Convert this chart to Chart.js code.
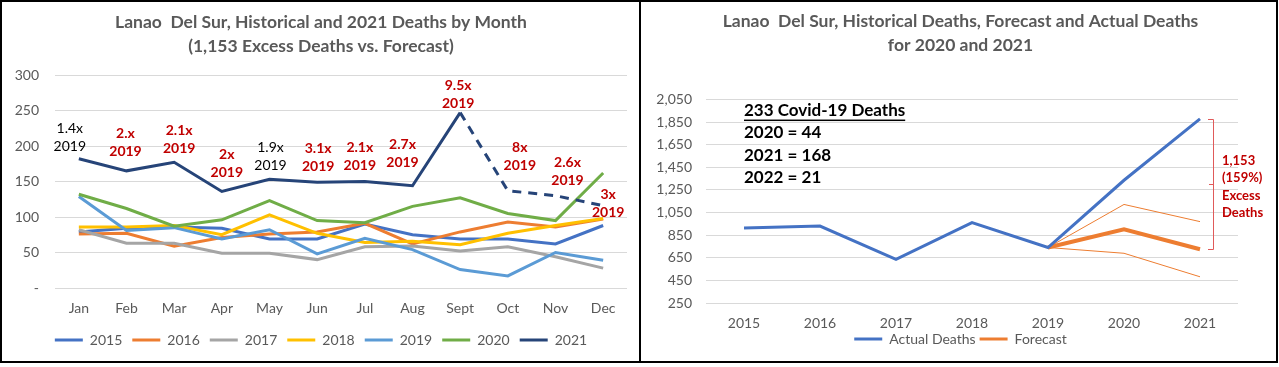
<!DOCTYPE html>
<html>
<head>
<meta charset="utf-8">
<script src="https://cdn.jsdelivr.net/npm/chart.js@4"></script>
<style>
  html, body { margin: 0; padding: 0; background: #fff; }
  .panel { position: absolute; top: 0; box-sizing: border-box; border: 2px solid #000; background: #fff; }
  .panel canvas { position: absolute; left: 0; top: 0; }
</style>
</head>
<body>
<div class="panel" style="left:0;width:642px;height:363px"><canvas id="monthly" width="638" height="359"></canvas></div>
<div class="panel" style="left:639px;width:639px;height:363px"><canvas id="yearly" width="635" height="359"></canvas></div>
<script>
// ---- left chart: deaths by month ----
var months = ["Jan", "Feb", "Mar", "Apr", "May", "Jun", "Jul", "Aug", "Sept", "Oct", "Nov", "Dec"];
var deaths2015 = [79, 84, 86, 84, 69, 69, 90, 75, 69, 69, 62, 88];
var deaths2016 = [76, 77, 59, 71, 76, 79, 91, 62, 79, 93, 86, 97];
var deaths2017 = [82, 63, 63, 49, 49, 40, 58, 59, 52, 58, 44, 28];
var deaths2018 = [86, 86, 88, 75, 103, 77, 64, 66, 61, 77, 88, 98];
var deaths2019 = [129, 81, 85, 69, 82, 48, 70, 54, 26, 17, 50, 39];
var deaths2020 = [132, 112, 87, 96, 123, 95, 92, 115, 127, 105, 95, 162];
var deaths2021 = [182, 165, 177, 136, 153, 149, 150, 144, 247, 137, 130, 116];
var monthTicks = [0, 50, 100, 150, 200, 250, 300];

// ratio of 2021 vs 2019 shown over each month
var ratioText = ["1.4x", "2.x", "2.1x", "2x", "1.9x", "3.1x", "2.1x", "2.7x", "9.5x", "8x", "2.6x", "3x"];
var ratioHighlight = [false, true, true, true, false, true, true, true, true, true, true, true];
var ratioBase = "2019";

// ---- right chart: yearly totals ----
var years = ["2015", "2016", "2017", "2018", "2019", "2020", "2021"];
var actualDeaths = [913, 931, 637, 961, 741, 1336, 1879];
var forecastDeaths = [null, null, null, null, 741, 901, 726];
var forecastUpper = [null, null, null, null, 741, 1122, 970];
var forecastLower = [null, null, null, null, 741, 690, 482];
var yearTicks = [250, 450, 650, 850, 1050, 1250, 1450, 1650, 1850, 2050];

var covidNotes = ["233 Covid-19 Deaths", "2020 = 44", "2021 = 168", "2022 = 21"];
var excessNote = ["1,153", "(159%)", "Excess", "Deaths"];

var FONT = "Lato";
var GREY = "#595959";
var RED = "#C00000";

// legend: short thick line for each series
function lineLegend( chart ) {
	var items = Chart.defaults.plugins.legend.labels.generateLabels( chart );
	items.forEach( function( it ) {
		it.fillStyle = it.strokeStyle;
		it.lineWidth = 0;
		it.lineDash = [];
	} );
	return items;
}

function series( label, data, color, width, order ) {
	return {
		label: label,
		data: data,
		borderColor: color,
		backgroundColor: color,
		borderWidth: width,
		pointRadius: 0,
		pointHoverRadius: 0,
		tension: 0,
		order: order
	};
}

var ratioLabels = {
	id: "ratioLabels",
	afterDatasetsDraw: function( chart ) {
		var ctx = chart.ctx, xs = chart.scales.x, ys = chart.scales.y;
		// nudges (px) so the labels sit like in the original
		var dx = [-9, -1, 5, 5, 1, 1, -5, -10, -2, 12, 12, 5];
		var up = [12, 19, 14, 19, 14, 16, 16, 23, 9, 25, 15, -7];
		ctx.save();
		ctx.textAlign = "center";
		ctx.textBaseline = "middle";
		ratioText.forEach( function( t, i ) {
			var x = xs.getPixelForValue( i ) + dx[i];
			var y = ys.getPixelForValue( deaths2021[i] ) - up[i];
			ctx.font = ( ratioHighlight[i] ? "bold " : "" ) + "14px " + FONT;
			ctx.fillStyle = ratioHighlight[i] ? RED : "#000";
			ctx.fillText( t, x, y - 18 );
			ctx.fillText( ratioBase, x, y );
		} );
		ctx.restore();
	}
};

var yearNotes = {
	id: "yearNotes",
	// title and legend are centred a little right of the canvas middle in the original
	afterLayout: function( chart ) {
		[chart.titleBlock, chart.legend].forEach( function( b ) {
			b.left += 21;
			b.right += 21;
		} );
	},
	afterDatasetsDraw: function( chart ) {
		var ctx = chart.ctx, xs = chart.scales.x, ys = chart.scales.y, area = chart.chartArea;
		ctx.save();
		// covid deaths box
		var left = xs.getPixelForValue( 0 );
		ctx.font = "bold 17px " + FONT;
		ctx.fillStyle = "#000";
		ctx.textBaseline = "middle";
		ctx.textAlign = "left";
		covidNotes.forEach( function( t, i ) {
			var y = area.top + 11 + i * 22.3;
			ctx.fillText( t, left, y );
			if ( i === 0 ) {
				var w = ctx.measureText( t ).width;
				ctx.fillRect( left, y + 9, w, 1.5 );
			}
		} );
		// bracket for excess deaths in 2021
		var last = years.length - 1;
		var bx = Math.round( xs.getPixelForValue( last ) + 13 );
		var yTop = Math.round( ys.getPixelForValue( actualDeaths[last] ) );
		var yBot = Math.round( ys.getPixelForValue( forecastDeaths[last] ) );
		var ym = Math.round( ( yTop + yBot ) / 2 );
		ctx.strokeStyle = "#E05A5A";
		ctx.lineWidth = 1;
		ctx.beginPath();
		ctx.moveTo( bx - 5, yTop + 0.5 );
		ctx.lineTo( bx + 0.5, yTop + 0.5 );
		ctx.lineTo( bx + 0.5, yBot + 0.5 );
		ctx.lineTo( bx - 5, yBot + 0.5 );
		ctx.moveTo( bx + 0.5, ym + 0.5 );
		ctx.lineTo( bx - 4, ym + 0.5 );
		ctx.stroke();
		ctx.font = "bold 13px " + FONT;
		ctx.fillStyle = RED;
		excessNote.forEach( function( t, i ) {
			ctx.fillText( t, bx + 9, ym + ( i - 1.5 ) * 17.5 + 3 );
		} );
		ctx.restore();
	}
};

Chart.defaults.font.family = FONT;
Chart.defaults.color = GREY;

new Chart( document.getElementById( "monthly" ), {
	type: "line",
	data: {
		labels: months,
		datasets: [
			series( "2015", deaths2015, "#4472C4", 3, 7 ),
			series( "2016", deaths2016, "#ED7D31", 3, 6 ),
			series( "2017", deaths2017, "#A5A5A5", 3, 5 ),
			series( "2018", deaths2018, "#FFC000", 3, 4 ),
			series( "2019", deaths2019, "#5B9BD5", 3, 3 ),
			series( "2020", deaths2020, "#70AD47", 3, 2 ),
			Object.assign( series( "2021", deaths2021, "#264478", 3, 1 ), {
				segment: {
					borderDash: function( c ) { return c.p0DataIndex >= 8 ? [9, 7] : undefined; }
				}
			} )
		]
	},
	options: {
		responsive: false,
		devicePixelRatio: 1,
		animation: false,
		layout: { padding: { left: 13, right: 13, top: 0, bottom: 4 } },
		plugins: {
			title: {
				display: true,
				text: ["Lanao  Del Sur, Historical and 2021 Deaths by Month", "(1,153 Excess Deaths vs. Forecast)"],
				color: GREY,
				font: { size: 17.5, weight: "bold", lineHeight: 1.4 },
				padding: { top: 8, bottom: 16 }
			},
			legend: {
				position: "bottom",
				labels: {
					boxWidth: 28,
					boxHeight: 3,
					padding: 10,
					color: GREY,
					font: { size: 14 },
					generateLabels: lineLegend,
					sort: function( a, b ) { return a.datasetIndex - b.datasetIndex; }
				}
			},
			tooltip: { enabled: false }
		},
		scales: {
			x: {
				offset: true,
				grid: { display: false, drawTicks: false },
				border: { display: false },
				ticks: { padding: 12, font: { size: 14 }, color: GREY },
				afterFit: function( s ) { s.height = 35; }
			},
			y: {
				min: 0,
				max: 300,
				afterBuildTicks: function( s ) { s.ticks = monthTicks.map( function( v ) { return { value: v }; } ); },
				grid: { color: "#D9D9D9", drawTicks: false },
				border: { display: false },
				ticks: {
					padding: 16,
					font: { size: 14 },
					color: GREY,
					callback: function( v ) { return v === 0 ? "-" : v; }
				},
				afterFit: function( s ) { s.width = 40; }
			}
		}
	},
	plugins: [ratioLabels]
} );

new Chart( document.getElementById( "yearly" ), {
	type: "line",
	data: {
		labels: years,
		datasets: [
			series( "Actual Deaths", actualDeaths, "#4472C4", 3, 1 ),
			series( "Forecast", forecastDeaths, "#ED7D31", 4, 2 ),
			series( "Upper", forecastUpper, "#ED7D31", 1, 3 ),
			series( "Lower", forecastLower, "#ED7D31", 1, 3 )
		]
	},
	options: {
		responsive: false,
		devicePixelRatio: 1,
		animation: false,
		layout: { padding: { left: 0, right: 38, top: 0, bottom: 5 } },
		plugins: {
			title: {
				display: true,
				text: ["Lanao  Del Sur, Historical Deaths, Forecast and Actual Deaths", "for 2020 and 2021"],
				color: GREY,
				font: { size: 17.5, weight: "bold", lineHeight: 1.33 },
				padding: { top: 8, bottom: 43 }
			},
			legend: {
				position: "bottom",
				labels: {
					boxWidth: 28,
					boxHeight: 3,
					padding: 4,
					color: GREY,
					font: { size: 14 },
					generateLabels: lineLegend,
					filter: function( it ) { return it.datasetIndex < 2; }
				}
			},
			tooltip: { enabled: false }
		},
		scales: {
			x: {
				offset: true,
				grid: { display: false, drawTicks: false },
				border: { display: false },
				ticks: { padding: 12, font: { size: 14 }, color: GREY },
				afterFit: function( s ) { s.height = 25; }
			},
			y: {
				min: 250,
				max: 2050,
				afterBuildTicks: function( s ) { s.ticks = yearTicks.map( function( v ) { return { value: v }; } ); },
				grid: { color: "#D9D9D9", drawTicks: false },
				border: { display: false },
				ticks: {
					padding: 14,
					font: { size: 14 },
					color: GREY,
					callback: function( v ) { return v.toLocaleString( "en-US" ); }
				},
				afterFit: function( s ) { s.width = 65; }
			}
		}
	},
	plugins: [yearNotes]
} );
</script>
</body>
</html>
